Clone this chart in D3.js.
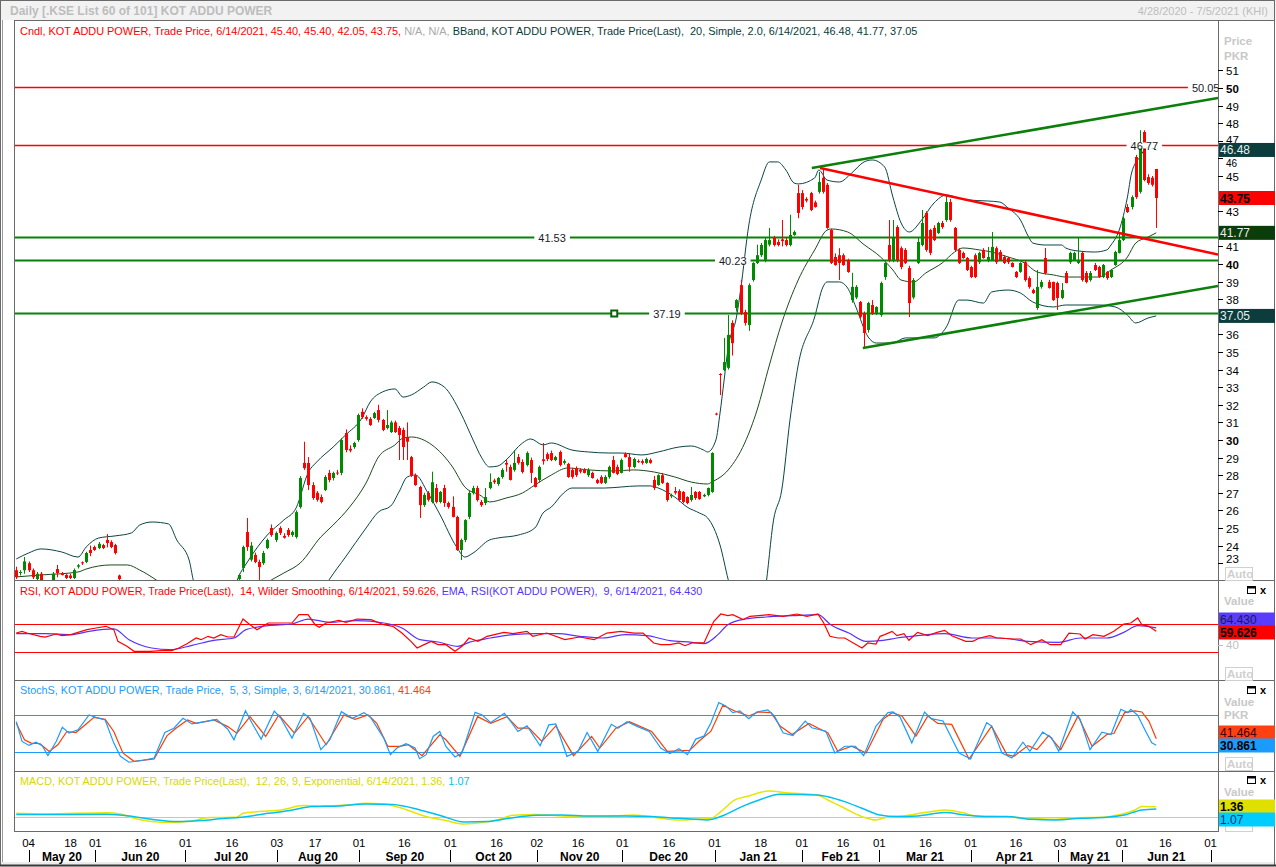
<!DOCTYPE html>
<html><head><meta charset="utf-8">
<script src="https://cdn.jsdelivr.net/npm/d3@7"></script>
<style>
body{margin:0;background:#fff;}
svg{display:block;}
text{font-family:"Liberation Sans",Arial,sans-serif;}
</style></head>
<body><svg id="c" width="1276" height="867"></svg>
<script>
// ---------------- DATA ----------------
// daily candles [open, high, low, close], trading-day index 0 = 4/28/2020 ... 277 = 6/14/2021
const candles = [
[22.6,22.8,22.1,22.2],[22.45,22.6,22.3,22.5],[22.6,23.35,22.4,23.1],[23.0,23.1,22.5,22.6],[22.6,22.7,22.1,22.2],
[22.1,22.5,22.0,22.4],[22.4,22.5,21.8,21.9],[21.8,21.95,21.4,21.6],[21.6,22.0,21.5,21.9],[21.9,22.5,21.8,22.4],
[22.67,22.9,22.2,22.44],[22.44,22.5,22.3,22.33],[22.33,22.4,22.1,22.16],[22.3,22.4,22.1,22.16],[22.16,22.7,22.1,22.61],
[22.8,22.95,22.7,22.88],[23.05,23.1,22.9,23.0],[23.07,23.65,23.0,23.58],[23.75,24.0,23.4,23.58],[23.92,24.0,23.7,23.75],
[23.86,24.2,23.8,24.1],[24.03,24.1,23.8,23.86],[24.32,24.66,23.9,24.15],[24.2,24.3,23.85,23.92],[24.03,24.1,23.5,23.58],
[22.3,22.35,21.9,22.1],[21.7,21.8,21.2,21.3],[21.3,21.5,20.9,21.0],[21.0,21.2,20.5,20.6],[20.6,20.9,20.3,20.8],
[20.8,21.0,20.4,20.5],[20.5,20.7,20.1,20.2],[20.2,20.5,19.9,20.3],[20.3,20.6,20.0,20.1],[20.1,20.3,19.7,19.8],
[19.8,20.2,19.6,20.0],[20.0,20.4,19.9,20.3],[20.3,20.6,20.1,20.4],[20.4,20.8,20.2,20.6],[20.6,20.9,20.3,20.5],
[20.5,20.9,20.4,20.8],[20.8,21.1,20.6,20.9],[20.9,21.2,20.7,21.0],[21.0,21.3,20.8,20.9],[20.9,21.2,20.7,21.1],
[21.1,21.4,20.9,21.2],[21.2,21.5,21.0,21.1],[21.1,21.4,20.9,21.3],[21.3,21.6,21.1,21.2],[21.2,21.5,21.0,21.4],
[21.4,21.7,21.2,21.5],[21.5,21.8,21.3,21.4],[21.4,21.8,21.3,21.7],[21.7,21.9,21.5,21.8],[22.1,22.4,22.0,22.33],
[22.73,24.0,22.5,23.92],[24.77,25.57,23.7,23.92],[23.2,24.2,23.1,24.0],[23.47,23.6,23.0,23.07],[23.07,23.2,22.05,22.78],
[23.0,23.7,22.9,23.58],[23.86,24.4,23.8,24.32],[25.0,25.2,24.5,24.6],[24.32,24.8,24.2,24.72],[25.0,25.1,24.6,24.72],
[24.55,24.7,24.4,24.45],[24.89,25.0,24.5,24.6],[24.6,24.85,24.5,24.77],[24.49,26.0,24.4,25.9],[26.19,27.95,26.1,27.84],
[28.7,29.9,28.3,28.4],[28.7,29.03,27.16,27.44],[27.44,27.6,26.6,26.7],[27.0,27.1,26.5,26.6],[26.76,26.9,26.4,26.48],
[27.16,28.0,27.1,27.9],[28.13,28.3,27.6,27.73],[27.84,28.2,27.7,28.13],[28.15,28.3,28.0,28.1],[28.13,30.1,28.0,30.0],
[30.4,30.6,29.3,29.43],[29.5,29.7,29.3,29.4],[29.6,29.9,29.5,29.83],[30.0,31.5,29.9,31.42],[31.6,31.8,31.2,31.3],
[31.3,31.4,31.1,31.2],[31.2,31.3,30.8,30.85],[31.25,31.6,31.2,31.53],[31.7,32.0,31.0,31.14],[31.14,31.2,30.5,30.57],
[30.68,31.7,30.6,30.85],[30.45,31.1,30.4,31.0],[31.0,31.1,30.4,30.45],[30.68,30.8,28.86,30.28],[30.57,30.7,28.86,29.6],
[30.17,31.0,28.86,29.9],[29.03,29.1,27.9,28.0],[28.0,28.1,27.4,27.44],[27.33,27.4,25.57,26.3],[26.3,27.0,26.2,26.88],
[27.0,27.1,26.5,26.6],[26.48,28.2,26.4,27.6],[27.27,27.5,26.4,26.48],[26.48,27.1,26.4,27.05],[27.27,27.45,26.2,26.42],
[26.42,26.5,26.1,26.2],[26.2,26.8,25.6,25.63],[25.63,25.7,23.7,23.75],[23.75,24.4,23.18,24.32],[24.32,25.5,24.2,25.45],
[25.63,27.1,25.5,26.99],[26.99,27.4,26.9,27.27],[27.27,27.4,26.5,26.59],[26.48,26.6,26.2,26.3],[26.42,27.27,26.3,26.76],
[27.27,28.1,27.2,27.61],[27.7,27.8,27.5,27.6],[27.5,27.9,27.4,27.84],[27.9,28.4,27.8,28.3],[28.7,28.9,28.2,28.6],
[28.47,28.6,27.7,27.73],[28.3,29.43,28.2,28.7],[29.03,29.2,28.6,28.7],[28.75,28.9,28.1,28.18],[28.58,29.35,28.5,29.26],
[28.86,29.0,27.56,28.13],[27.84,27.9,27.3,27.33],[27.73,28.55,27.6,28.47],[28.9,29.83,28.6,28.8],[29.2,29.3,28.8,28.92],
[29.26,29.4,28.8,28.86],[28.86,29.1,28.8,29.03],[29.32,29.4,28.5,28.58],[28.7,28.9,28.6,28.8],[28.64,28.7,27.85,27.9],
[28.3,28.4,27.8,27.9],[28.4,28.5,27.9,28.0],[28.3,28.4,28.1,28.2],[28.3,28.4,28.1,28.13],[28.0,28.4,27.9,28.3],
[28.13,28.2,27.8,27.84],[27.73,27.8,27.5,27.56],[27.9,28.0,27.5,27.56],[27.56,28.0,27.5,27.9],[27.9,28.55,27.8,28.47],
[28.86,29.1,28.1,28.13],[28.47,28.6,28.0,28.07],[28.13,28.95,28.1,28.86],[29.2,29.3,29.0,29.03],[29.03,29.26,28.2,28.47],
[28.47,29.0,28.4,28.92],[28.8,28.9,28.7,28.75],[28.8,28.9,28.6,28.7],[28.7,29.0,28.65,28.92],[28.86,28.95,28.65,28.7],
[27.73,27.96,27.16,27.27],[27.44,28.05,27.4,28.0],[28.0,28.13,27.5,27.56],[27.56,27.6,26.5,26.59],[26.8,26.95,26.7,26.88],
[27.1,27.33,26.9,27.0],[27.1,27.2,26.5,26.59],[27.05,27.1,26.4,26.48],[26.76,26.8,26.35,26.42],[26.59,27.33,26.5,26.88],
[27.05,27.1,26.6,26.7],[27.05,27.1,26.6,26.65],[26.8,26.95,26.75,26.88],[26.88,27.3,26.8,27.27],[27.05,29.3,27.0,29.26],
[31.5,31.55,31.4,31.45],[33.75,33.8,32.55,33.7],[33.98,35.8,33.9,34.43],[34.1,37.1,34.0,35.97],[36.65,36.8,34.8,35.5],
[37.5,38.0,37.3,37.95],[38.8,39.1,37.1,37.2],[37.27,37.4,36.5,36.65],[36.53,38.9,36.2,38.8],[39.09,40.1,39.0,40.06],
[40.06,41.1,40.0,40.5],[40.5,41.2,40.4,41.08],[40.23,41.5,40.1,41.36],[41.1,42.05,41.0,41.36],[41.48,41.6,41.0,41.08],
[41.25,41.4,41.0,41.08],[41.4,42.5,41.0,41.3],[41.36,41.5,41.0,41.08],[41.08,42.8,41.0,41.65],[41.65,41.9,41.6,41.82],
[44.03,44.5,42.6,42.9],[44.03,44.2,43.1,43.24],[43.7,43.8,43.5,43.6],[44.03,44.1,43.0,43.07],[43.5,43.6,43.2,43.24],
[44.1,45.23,44.0,44.66],[44.9,45.45,44.0,44.1],[44.5,44.6,42.0,42.05],[41.93,42.0,40.0,40.06],[40.4,40.6,39.9,39.94],
[40.5,40.9,39.09,40.06],[40.5,40.6,39.9,39.94],[40.23,40.3,39.5,39.55],[37.95,39.5,37.8,38.7],[38.1,38.8,38.0,38.7],
[37.84,37.9,36.9,37.0],[37.2,37.3,35.28,36.08],[36.25,37.85,36.1,37.78],[37.67,37.95,37.1,37.22],[37.22,37.6,37.1,37.56],
[37.1,39.0,37.0,38.92],[39.26,40.1,39.1,40.06],[41.08,42.5,40.1,40.23],[40.23,42.5,40.1,41.53],[42.1,42.2,40.1,40.23],
[40.9,41.0,39.7,39.83],[40.8,40.9,40.0,40.06],[39.77,39.9,36.99,37.78],[38.1,39.2,38.0,39.09],[40.06,41.53,40.0,41.25],
[41.08,43.07,41.0,42.33],[42.9,43.0,40.7,40.8],[41.93,42.0,40.5,40.63],[42.05,42.2,41.3,41.36],[41.76,42.4,41.7,42.33],
[42.33,42.45,42.0,42.1],[42.5,43.92,42.4,43.52],[43.52,43.7,42.4,42.5],[42.05,42.1,40.7,40.8],[40.8,40.9,40.0,40.06],
[40.63,40.7,40.3,40.34],[40.34,40.4,39.6,39.66],[39.83,39.9,39.2,39.26],[40.5,40.6,39.2,39.26],[40.1,40.7,40.0,40.63],
[40.8,40.9,40.3,40.34],[40.17,40.97,40.1,40.4],[40.23,41.82,40.2,40.97],[40.9,41.0,40.0,40.1],[40.68,40.8,40.2,40.23],
[40.4,40.5,40.0,40.06],[40.34,40.4,40.0,40.1],[40.06,40.1,39.8,39.83],[39.55,39.6,39.2,39.26],[39.55,40.1,39.5,40.06],
[40.1,40.2,39.0,39.09],[39.2,39.3,38.6,38.7],[38.52,38.6,38.3,38.35],[37.5,39.66,37.4,38.7],[38.7,39.1,38.6,38.98],
[40.34,40.91,39.4,39.49],[38.98,39.1,38.6,38.64],[38.98,39.0,37.9,37.95],[38.92,39.0,37.39,38.07],[38.07,38.92,38.0,38.52],
[39.49,39.6,38.9,38.92],[40.1,40.7,40.0,40.63],[40.23,40.7,40.2,40.63],[40.06,41.53,40.0,40.23],[40.63,40.7,39.0,39.09],
[39.49,39.6,38.9,38.98],[39.09,39.6,39.0,39.49],[39.94,40.06,39.6,39.66],[39.83,39.9,39.2,39.26],[39.26,40.0,39.2,39.94],
[39.55,39.6,39.1,39.2],[39.26,39.7,39.2,39.66],[39.94,40.75,39.9,40.68],[40.63,41.82,40.6,41.36],[41.36,42.7,41.3,42.6],
[43.24,43.4,42.9,42.95],[43.24,43.9,43.1,43.8],[46.08,46.2,43.7,43.8],[44.1,47.6,44.0,46.65],[47.5,47.6,44.7,44.77],
[44.94,45.1,44.5,44.6],[44.9,45.0,44.4,44.5],[45.40,45.40,42.05,43.75]
];

// Bollinger band (20, 2.0): [day index, value]
const bbUpper = [[0,23.24],[3,23.58],[6,23.81],[11,23.64],[15,23.35],[17,23.92],[20,24.43],[24,24.55],[28,24.72],[30,25.17],[33,25.34],[37,25.23],[39,24.32],[42,23.18],[43,22.05],[46,20.6],[50,20.0],[52,20.8],[54,22.22],[56,23.01],[61,24.6],[65,25.45],[68,26.14],[71,28.18],[73,28.75],[77,29.6],[80,30.28],[84,31.25],[86,32.16],[89,32.73],[92,32.9],[94,32.44],[96,32.56],[99,33.01],[101,33.3],[104,33.01],[108,31.53],[111,30.0],[113,29.03],[115,28.47],[117,28.52],[119,28.86],[123,29.83],[125,30.06],[128,29.72],[130,29.83],[135,29.43],[139,29.32],[144,29.26],[147,29.26],[152,29.15],[156,29.32],[161,29.6],[164,29.66],[167,29.43],[168,29.32],[170,30.0],[171,31.53],[172,33.41],[173,35.28],[175,36.99],[176,38.52],[178,42.22],[181,44.77],[183,45.8],[185,45.8],[187,45.34],[189,44.6],[190,44.55],[194,44.89],[195,45.34],[197,44.77],[200,44.66],[203,45.17],[206,45.8],[208,45.91],[211,45.51],[213,43.81],[215,42.33],[217,41.82],[220,42.5],[223,43.47],[226,43.92],[229,43.75],[231,43.64],[236,43.58],[239,43.52],[241,43.18],[244,42.5],[246,41.53],[247,41.19],[250,41.08],[254,41.08],[255,40.91],[258,40.74],[262,40.68],[265,40.8],[266,41.08],[268,41.93],[270,43.81],[271,45.17],[273,46.08],[275,46.65],[277,46.48]];
const bbMiddle = [[0,22.22],[6,22.33],[15,22.5],[17,22.67],[23,22.9],[27,22.9],[30,22.61],[34,22.05],[40,21.0],[50,20.5],[58,21.5],[62,22.05],[65,22.44],[69,23.01],[74,24.49],[77,25.17],[81,26.19],[85,27.56],[88,29.03],[92,29.72],[94,30.11],[96,30.17],[101,29.72],[106,28.47],[109,27.33],[113,26.82],[115,26.48],[119,26.7],[123,26.99],[126,27.44],[130,28.01],[134,28.41],[139,28.3],[145,28.24],[150,28.3],[155,28.18],[160,27.9],[164,27.61],[168,27.5],[169,27.61],[173,28.3],[177,29.83],[180,31.7],[183,34.26],[186,36.65],[190,39.09],[194,40.8],[197,41.93],[198,41.99],[202,41.82],[206,41.1],[210,40.4],[213,39.66],[215,39.09],[218,38.98],[221,39.49],[225,40.06],[228,40.68],[230,40.91],[234,40.8],[237,40.68],[241,40.4],[245,40.06],[248,39.55],[252,39.38],[255,39.26],[259,39.26],[263,39.26],[266,39.66],[270,40.4],[272,41.19],[275,41.53],[277,41.77]];
const bbLower = [[0,21.0],[20,20.5],[35,19.0],[50,18.5],[65,18.5],[72,20.5],[76,22.05],[80,23.35],[85,25.0],[88,25.91],[91,26.25],[93,27.05],[95,27.9],[97,28.01],[100,27.0],[103,25.74],[107,23.92],[109,23.35],[111,23.58],[115,24.32],[117,24.43],[122,24.6],[126,25.0],[128,25.85],[130,26.19],[133,26.99],[135,27.27],[139,27.27],[143,27.27],[147,27.33],[151,27.39],[154,27.39],[156,27.27],[160,26.76],[163,26.19],[166,25.85],[168,25.57],[171,24.03],[173,22.05],[176,19.5],[180,19.5],[182,21.5],[184,25.45],[186,27.16],[188,31.14],[190,34.26],[194,36.99],[196,38.69],[197,38.98],[200,38.98],[202,38.64],[204,37.56],[207,35.85],[209,35.51],[213,35.51],[216,35.8],[223,35.8],[226,36.42],[229,37.95],[231,37.95],[235,37.78],[237,38.41],[241,38.52],[244,38.35],[247,37.84],[252,37.56],[255,37.67],[263,37.67],[267,37.56],[270,37.1],[272,36.65],[275,36.93],[277,37.05]];

// RSI(14) and its EMA(9)
const rsiLine = [[0,57.1],[1.4,59.5],[2.6,57.1],[5.8,52.4],[7,51.4],[9.7,55.7],[11.1,53.3],[13.3,54.8],[15,58.1],[17.2,61.9],[19.4,64.3],[21.8,66.7],[23.7,61.9],[24.7,45.2],[26.9,38.1],[28.6,31],[32.5,31],[35.2,31.9],[37.8,31.9],[39.5,35.7],[41.5,41.9],[43.7,50],[44.9,47.6],[46.6,52.4],[48,50],[49.7,54.8],[51.4,51.4],[52.9,51.4],[55.1,77.1],[56.8,69],[58.5,61.9],[61.2,71.4],[64.3,71.4],[67,71.4],[68.7,83.3],[70.9,83.3],[72.6,69],[73.6,65.2],[75.3,71.4],[78.4,75.2],[80.1,72.4],[82.8,77.1],[86.2,76.2],[89.3,69],[91.5,66.7],[93.7,57.1],[95.9,45.2],[97.4,35.7],[99.1,40.5],[100.8,45.2],[102.5,40.5],[104.4,40.5],[106.6,31],[108.3,38.1],[110,50],[112.2,45.2],[114.4,52.4],[118.5,58.1],[120.7,56.2],[124.1,59.5],[125.5,52.4],[128.9,57.1],[133.3,47.6],[136.9,51.4],[140.4,47.6],[143.5,57.1],[146.9,59.5],[150.1,57.1],[152.3,57.1],[154.9,42.9],[156.6,40.5],[158.8,40.5],[161,42.9],[162.5,39],[164.2,42.9],[167.1,42.9],[169.5,73.8],[171.2,84.3],[172.9,81.9],[174.1,83.3],[176.6,76.2],[178.3,81],[182.9,83.3],[186.3,81],[189.7,84.3],[192.1,81],[194.8,84.3],[196.2,71.4],[197.7,52.4],[199.6,50],[201.3,50],[205.5,35.7],[206.9,42.9],[208.9,41.4],[209.9,52.4],[211,54.8],[212.8,59.5],[214,53.3],[215.7,56.2],[216.9,46.7],[219,58.1],[221.5,53.3],[223.7,58.1],[225.6,61],[227.3,53.3],[230.7,45.2],[232.4,45.2],[234.1,50],[236.6,53.3],[238.3,50],[242.4,48.6],[244.1,48.6],[246.5,40.5],[249.2,47.6],[251.2,40.5],[253.8,40.5],[255.8,57.1],[258.5,55.7],[259.7,48.6],[261.6,54.8],[264.3,52.4],[266.7,59.5],[269.1,70],[270.8,71.4],[272.5,78.6],[273.5,69],[275.2,66.7],[277,59.626]];
const rsiEma = [[0,56.2],[7,56.2],[13.3,54.8],[17.7,59.5],[23.7,62.9],[27.4,47.6],[32.9,35.7],[37.4,33.3],[42.7,39.5],[48,46.7],[52.9,50],[55.8,61.9],[61.2,67.6],[67,70],[70.9,77.1],[76.2,72.4],[82.8,74.8],[89.3,71.4],[93.7,64.3],[98.1,47.6],[102.5,44.3],[107.3,38.1],[110,43.8],[115.3,50],[120.7,54.8],[126.3,56.2],[131.6,56.2],[136.9,52.4],[142.5,50],[147.9,54.8],[153.2,53.3],[158.8,46.2],[164.2,43.8],[167.1,41.9],[170.5,54.8],[172.9,69],[177.1,77.1],[182.2,80],[188.7,81.9],[194.8,83.3],[197.9,69],[202.3,57.1],[206.5,45.2],[210.6,46.7],[214,50],[219,53.3],[225.6,56.2],[232.4,50],[239,50],[245.8,45.2],[253.3,43.8],[258.5,50],[265,50],[269.1,58.1],[272.5,67.6],[277,64.43]];

// Slow stochastic (5,3,3): %K and %D
const stochK = [[0,69.3],[1.4,37.1],[3.1,30.7],[4.8,36],[6.3,30.2],[7.7,14.1],[9.7,37.1],[11.2,60.2],[12.8,50.5],[15,55.9],[17.7,80],[19.4,76.2],[21.6,72],[23.7,34.4],[25.3,13],[27.4,3.4],[30.8,6.6],[33.5,10.3],[36.1,51.6],[38.3,58.6],[40.5,74.6],[42.7,65.5],[45.9,69.3],[48.7,73],[51.4,57],[52.9,39.8],[55.7,87],[57.3,66.6],[59.5,40.9],[62.7,86.4],[64.3,74.6],[67,42.5],[69.8,82.7],[71.4,74.6],[74,23.7],[76.2,39.8],[79,85.4],[81.7,74.6],[84.5,83.8],[86.1,76.2],[89.3,42.5],[90.9,15.7],[92.5,26.4],[94.7,33.4],[96.9,26.4],[98,9.2],[99.6,15.7],[101.3,45.2],[102.9,53.2],[104.4,29.1],[106.6,12],[108.3,18.4],[111.5,84.3],[113.2,80],[115.3,67.7],[118.6,82.7],[120.2,69.3],[121.9,53.2],[124.1,62.3],[127.3,30.2],[129.4,63.9],[131.1,65.5],[133.8,13],[136.5,21],[138.7,51.6],[141.3,21],[144.6,65],[146.2,58.6],[148.4,69.3],[151,61.2],[153.8,53.2],[156.6,26.4],[158.8,17.3],[161,25.3],[163.1,15.7],[165.1,40.9],[167.1,45.7],[168.8,67.5],[170.7,100],[172.4,94.7],[174.1,83.8],[175.8,86.5],[178,74],[179.9,84.9],[182.6,88.2],[184.2,78.4],[186.3,51.1],[188.7,46.8],[191.7,70.2],[193.3,59.3],[196.7,53.8],[198.9,18.4],[201.3,29.3],[203.9,29.3],[205.9,14],[208.9,62],[211.8,83.8],[213,84.9],[214.7,77.3],[217.6,34.8],[220.7,84.9],[222.3,74],[225.2,70.2],[229.1,18.4],[231.9,8.6],[235.8,67.5],[237,62],[239.5,18.4],[241.9,10.2],[244.6,35.9],[246.3,21.1],[249.4,52.2],[251.6,42.9],[253.3,21.1],[256.7,84.9],[258.5,72.9],[260.9,23.9],[263.8,52.2],[266,48.4],[268.4,89.3],[270.1,83.8],[270.8,89.3],[272.5,79.5],[274.2,56.6],[275.9,34.8],[277,30.861]];
const stochD = [[0,66.6],[2,39.8],[3.6,34.4],[5.8,33.4],[8,21],[10.1,31.8],[12.3,53.2],[14.5,51.6],[16.7,63.9],[18.9,76.2],[21.6,73],[23.7,53.2],[25.9,18.4],[28.6,5],[33.5,8.7],[36.6,46.2],[38.8,58.6],[41.6,72],[43.7,66.6],[48,72],[51.4,61.2],[53.6,50.5],[56.8,77.3],[60.6,45.2],[63.8,80],[67.6,50.5],[70.9,77.3],[75.3,31.8],[79.6,80],[82.3,73],[85.5,80],[87.6,66.6],[90.3,29.1],[93.1,29.1],[95.3,31.8],[98.6,14.1],[102.9,47.8],[104.4,39.8],[107.8,13],[112.1,77.3],[115.3,66.6],[119.2,77.3],[121.9,58.6],[124.6,58.6],[127.7,37.1],[131.1,62.3],[135.4,14.1],[139.8,45.2],[141.8,26.4],[145.7,58.6],[149,69.3],[154.4,53.2],[158.2,21],[163.6,22.6],[165.8,37.1],[168.8,53.8],[171.7,95.8],[174.6,86.5],[178,78.4],[180.4,84.9],[183.4,83.8],[185.6,62],[188.5,48.4],[192.6,66.4],[195.5,56.6],[197.2,51.1],[199.6,21.1],[203,29.3],[206.5,18.4],[210.6,72.9],[212.8,83.8],[215.2,78.4],[218.6,45.7],[221.5,78.4],[223.9,66.4],[227.3,64.7],[231.5,8.6],[237,62],[240.7,15.7],[242.4,13],[245.8,30.4],[248,23.9],[250.9,46.8],[253.8,23.9],[258,78.4],[261.4,29.3],[265,48.4],[266.7,50],[269.3,83.8],[271.8,86.5],[273.5,84.9],[275.2,70.2],[277,41.464]];

// MACD (12,26,9) line and signal
const macdLine = [[0,0.52],[7,0.43],[22,0.6],[25.3,0.43],[28.6,-0.13],[32.9,-0.56],[37.4,-0.69],[41.6,-0.56],[47.1,-0.04],[53.5,0],[55.1,0.52],[59,0.74],[64.3,0.95],[69.8,1.52],[74,1.47],[80.6,1.6],[85,1.82],[89.3,1.73],[93.7,1.17],[99.1,0.17],[104.4,-0.43],[108.8,-0.87],[113.2,-0.69],[117.5,-0.26],[120.7,0.26],[126.3,0.35],[132.7,0.17],[139.2,0.09],[145.7,0.17],[150.1,0.3],[156.6,-0.13],[161,-0.35],[165.1,-0.26],[168.8,-0.13],[171.2,0.74],[174.6,2.25],[178,2.77],[182.9,3.42],[187.1,3.2],[194.7,2.9],[197.2,2.25],[201.3,1.17],[205.5,0.09],[208.9,-0.35],[211.5,0],[215.7,0.17],[220.7,0.61],[225.6,0.95],[229.9,0.61],[233.2,0.17],[237.3,0.09],[241.7,0],[245.8,-0.13],[251.6,-0.26],[255.8,-0.13],[260,-0.04],[264.3,0],[267.6,0.3],[271.8,0.95],[273.5,1.39],[277,1.36]];
const macdSignal = [[0,0.35],[7,0.35],[22,0.39],[27.5,0.17],[32.9,-0.26],[39.4,-0.56],[44.9,-0.43],[50.2,-0.17],[54.6,0],[61.2,0.52],[66.5,0.87],[71.9,1.39],[78.4,1.47],[85,1.73],[91.5,1.65],[98.1,0.95],[103.4,0.17],[108.8,-0.61],[114.4,-0.56],[119.7,-0.13],[126.3,0.26],[132.7,0.3],[139.2,0.17],[147.9,0.17],[154.4,0.09],[161,-0.13],[165.1,-0.26],[167.8,-0.35],[172.1,0.3],[176.3,1.39],[180.5,2.25],[185.5,2.99],[194.7,2.9],[197.2,2.68],[201.3,2.03],[205.5,1.17],[209.8,0.3],[214,0.09],[219,0.17],[225.6,0.61],[230.7,0.3],[235.8,0.09],[240.7,0.09],[246.5,-0.26],[252.5,-0.35],[258.5,-0.13],[265,0],[269.3,0.3],[273.5,0.95],[277,1.07]];

// horizontal levels and drawn trend lines
const levelValues = [50.05, 46.77, 41.53, 40.23, 37.19];
const trendUpper = [[193.3,45.45],[292,49.43]];
const trendDown  = [[195.3,45.45],[292,40.54]];
const trendLower = [[205.7,35.23],[292,38.75]];

// axis labels (ticks hidden under the value boxes in the reference are left out)
const priceTicks = [23,24,25,26,27,28,29,30,31,32,33,34,35,36,38,39,40,41,43,45,46,47,48,49,50,51];
const dayTicks = [[3,"04"],[13.2,"18"],[19.2,"01"],[30.2,"16"],[41.1,"01"],[52.4,"16"],[63.3,"03"],[72.6,"17"],[83.3,"01"],[94.3,"16"],[105.5,"01"],[116.7,"16"],[126.5,"02"],[136.5,"16"],[147.3,"01"],[158.6,"16"],[169.7,"01"],[180.9,"18"],[190.9,"01"],[200.9,"16"],[209.7,"01"],[220.9,"16"],[231.9,"01"],[242.9,"16"],[253.6,"03"],[268.7,"01"],[279.2,"16"],[290.2,"01"]];
const monthStarts = [3,19.2,41.1,63.3,83.3,105.5,126.5,147.3,169.7,190.9,209.7,231.9,253.1,268.7,290.2];
const monthNames = ["May 20","Jun 20","Jul 20","Aug 20","Sep 20","Oct 20","Nov 20","Dec 20","Jan 21","Feb 21","Mar 21","Apr 21","May 21","Jun 21"];

// ---------------- DRAW ----------------
const svg = d3.select("#c");
const PL = 14, PR = 1218, WR = 1275;
const GREEN = "#008a00", RED = "#ff0000";

const x = d3.scaleLinear().domain([-0.55, 292.0]).range([PL, PR]);
const yMain = d3.scaleLinear().domain([22.045, 53.864]).range([580, 20]);
const yRsi = d3.scaleLinear().domain([-11.43, 131.43]).range([681, 581]);
const ySto = d3.scaleLinear().domain([-10.8, 135.1]).range([771, 681]);
const yMacd = d3.scaleLinear().domain([-1.78, 6.01]).range([831, 771]);

svg.append("rect").attr("width",1276).attr("height",867).attr("fill","#fff");
svg.append("rect").attr("x",0).attr("y",0).attr("width",1276).attr("height",20).attr("fill","#f2f2f2");
svg.append("text").attr("x",10).attr("y",15).attr("font-size",12).attr("font-weight","bold").attr("fill","#bdbdbd")
  .text("Daily [.KSE List 60 of 101] KOT ADDU POWER");
svg.append("text").attr("x",1268).attr("y",15).attr("font-size",11).attr("text-anchor","end").attr("fill","#bdbdbd")
  .text("4/28/2020 - 7/5/2021 (KHI)");
svg.append("rect").attr("x",0).attr("y",862).attr("width",1276).attr("height",5).attr("fill","#ececec");

const defs = svg.append("defs");
function clip(id, top, bottom){
  defs.append("clipPath").attr("id",id).append("rect").attr("x",PL+1).attr("y",top+1).attr("width",PR-PL-1).attr("height",bottom-top-1);
  return svg.append("g").attr("clip-path",`url(#${id})`);
}
const gMain = clip("cm",20,580), gRsi = clip("cr",581,681), gSto = clip("cs",681,771), gMacd = clip("cd",771,831);

// Bollinger bands
const lineGen = (ys)=> d3.line().x(d=>x(d[0])).y(d=>ys(d[1])).curve(d3.curveMonotoneX);
gMain.append("path").datum(bbUpper).attr("d",lineGen(yMain)).attr("fill","none").attr("stroke","#0b4444").attr("stroke-width",1);
gMain.append("path").datum(bbLower).attr("d",lineGen(yMain)).attr("fill","none").attr("stroke","#0b4444").attr("stroke-width",1);
gMain.append("path").datum(bbMiddle).attr("d",lineGen(yMain)).attr("fill","none").attr("stroke","#1d4a1d").attr("stroke-width",1);

// horizontal levels
const levelStyle = [
  {color:RED,w:1.5,label:"50.05",lx:289.0},
  {color:RED,w:1.5,label:"46.77",lx:274.1},
  {color:"#0a800a",w:2,label:"41.53",lx:130.2},
  {color:"#0a800a",w:2,label:"40.23",lx:174.1},
  {color:"#0a800a",w:2,label:"37.19",lx:158.1,marker:145.3}
];
const labelLayer = [];
levelValues.forEach((v,k)=>{
  const s = levelStyle[k], yy = Math.round(yMain(v))+0.5;
  gMain.append("line").attr("x1",PL).attr("x2",PR).attr("y1",yy).attr("y2",yy).attr("stroke",s.color).attr("stroke-width",s.w);
  labelLayer.push({s,yy});
  if(s.marker!==undefined){
    gMain.append("rect").attr("x",x(s.marker)-3).attr("y",yy-3).attr("width",6).attr("height",6).attr("fill","#fff").attr("stroke","#0a600a").attr("stroke-width",2);
  }
});

// candles
const cg = gMain.append("g");
candles.forEach((c,i)=>{
  const [o,h,l,cl] = c, up = cl>=o, col = up?GREEN:RED, cx = Math.round(x(i))+0.5;
  cg.append("line").attr("x1",cx).attr("x2",cx).attr("y1",yMain(h)).attr("y2",yMain(l)).attr("stroke",col).attr("stroke-width",1);
  const y1 = yMain(Math.max(o,cl)), y2 = yMain(Math.min(o,cl));
  cg.append("rect").attr("x",cx-1.5).attr("y",y1).attr("width",3).attr("height",Math.max(1,y2-y1)).attr("fill",col);
});

// trend lines
[[trendUpper,"#0a800a"],[trendDown,RED],[trendLower,"#0a800a"]].forEach(([d,col])=>{
  gMain.append("path").datum(d).attr("d",d3.line().x(p=>x(p[0])).y(p=>yMain(p[1]))).attr("stroke",col).attr("stroke-width",2.5).attr("fill","none");
});
// level labels on top, with a small white gap in the line
labelLayer.forEach(({s,yy})=>{
  const t = gMain.append("text").attr("x",x(s.lx)).attr("y",yy+4).attr("font-size",11).attr("text-anchor","middle").attr("fill","#1a1a2a").text(s.label);
  const bb = t.node().getBBox();
  gMain.insert("rect", function(){ return t.node(); }).attr("x",bb.x-4).attr("y",yy-3).attr("width",bb.width+8).attr("height",6).attr("fill","#fff");
});

// RSI panel
[70,30].forEach(v=>gRsi.append("line").attr("x1",PL).attr("x2",PR).attr("y1",Math.round(yRsi(v))+0.5).attr("y2",Math.round(yRsi(v))+0.5).attr("stroke",RED).attr("stroke-width",1.2));
gRsi.append("path").datum(rsiEma).attr("d",lineGen(yRsi)).attr("fill","none").attr("stroke","#5533ff").attr("stroke-width",1.2);
gRsi.append("path").datum(rsiLine).attr("d",d3.line().x(d=>x(d[0])).y(d=>yRsi(d[1]))).attr("fill","none").attr("stroke",RED).attr("stroke-width",1.2);

// Stoch panel
[80,20].forEach(v=>gSto.append("line").attr("x1",PL).attr("x2",PR).attr("y1",Math.round(ySto(v))+0.5).attr("y2",Math.round(ySto(v))+0.5).attr("stroke","#1a9cff").attr("stroke-width",1.2));
gSto.append("path").datum(stochD).attr("d",d3.line().x(d=>x(d[0])).y(d=>ySto(d[1]))).attr("fill","none").attr("stroke","#ff3c00").attr("stroke-width",1.2);
gSto.append("path").datum(stochK).attr("d",d3.line().x(d=>x(d[0])).y(d=>ySto(d[1]))).attr("fill","none").attr("stroke","#1a9cff").attr("stroke-width",1.2);

// MACD panel
gMacd.append("line").attr("x1",PL).attr("x2",PR).attr("y1",Math.round(yMacd(0))+0.5).attr("y2",Math.round(yMacd(0))+0.5).attr("stroke","#e0e000").attr("stroke-width",1.2);
gMacd.append("path").datum(macdLine).attr("d",lineGen(yMacd)).attr("fill","none").attr("stroke","#e6e600").attr("stroke-width",1.5);
gMacd.append("path").datum(macdSignal).attr("d",lineGen(yMacd)).attr("fill","none").attr("stroke","#00c0f0").attr("stroke-width",1.5);

// headers: font size tuned so each header spans its reference width
function header(y, parts, width){
  const t = svg.append("text").attr("x",20).attr("y",y).attr("font-size",11.5).attr("xml:space","preserve");
  parts.forEach(([s,c])=>t.append("tspan").attr("fill",c).text(s));
  const w = t.node().getComputedTextLength();
  t.attr("font-size", (11.5*width/w).toFixed(2));
}
header(35,[["Cndl, KOT ADDU POWER, Trade Price, 6/14/2021, 45.40, 45.40, 42.05, 43.75, ",RED],["N/A, N/A, ","#a8a8a8"],["BBand, KOT ADDU POWER, Trade Price(Last),  20, Simple, 2.0, 6/14/2021, 46.48, 41.77, 37.05","#0b3b3b"]],898);
header(595,[["RSI, KOT ADDU POWER, Trade Price(Last),  14, Wilder Smoothing, 6/14/2021, 59.626, ",RED],["EMA, RSI(KOT ADDU POWER),  9, 6/14/2021, 64.430","#5533ff"]],683);
header(694,[["StochS, KOT ADDU POWER, Trade Price,  5, 3, Simple, 3, 6/14/2021, 30.861, ","#1a9cff"],["41.464","#ff3c00"]],411);
header(785,[["MACD, KOT ADDU POWER, Trade Price(Last),  12, 26, 9, Exponential, 6/14/2021, 1.36, ","#d8d800"],["1.07","#00c0f0"]],450);

// frame lines
const frame = svg.append("g").attr("stroke","#6a6a6a").attr("stroke-width",1);
frame.append("line").attr("x1",PL+0.5).attr("x2",PL+0.5).attr("y1",20).attr("y2",831);
frame.append("line").attr("x1",PR+0.5).attr("x2",PR+0.5).attr("y1",20).attr("y2",831);
[20.5,580.5,680.5,771.5].forEach(y=>frame.append("line").attr("x1",PL).attr("x2",WR).attr("y1",y).attr("y2",y));
frame.append("line").attr("x1",PL).attr("x2",PR+1).attr("y1",831.5).attr("y2",831.5);
svg.append("rect").attr("x",0.5).attr("y",0.5).attr("width",1274).attr("height",865).attr("fill","none").attr("stroke","#6a6a6a");
svg.append("line").attr("x1",2.5).attr("x2",2.5).attr("y1",20).attr("y2",862).attr("stroke","#9a9a9a");
svg.append("line").attr("x1",0).attr("x2",1276).attr("y1",865.5).attr("y2",865.5).attr("stroke","#3a3a3a").attr("stroke-width",2);

// right axis: main
const ax = svg.append("g");
ax.append("text").attr("x",1224).attr("y",45).attr("font-size",11.5).attr("font-weight","bold").attr("fill","#c8c8c8").text("Price");
ax.append("text").attr("x",1224).attr("y",60).attr("font-size",11.5).attr("font-weight","bold").attr("fill","#c8c8c8").text("PKR");
// labels right next to a value box are nudged / shrunk clear of it (the reference shows them peeking out)
const labelNudge = {47:{dy:-1.5,fs:11.5}, 46:{dy:4,fs:10}};
priceTicks.forEach(v=>{
  const yy = Math.round(yMain(v))+0.5, n = labelNudge[v] || {dy:0,fs:11.5};
  ax.append("line").attr("x1",PR).attr("x2",PR+5).attr("y1",yy).attr("y2",yy).attr("stroke","#000");
  ax.append("text").attr("x",1226).attr("y",Math.min(yy,559)+4+n.dy).attr("font-size",n.fs)
    .attr("font-weight",v%10===0?"bold":"normal").attr("fill","#000").text(v);
});
function autoBox(y, withText){
  ax.append("rect").attr("x",1225.5).attr("y",y-10.5).attr("width",27).attr("height",13).attr("fill","#fff").attr("stroke","#d0d0d0");
  if(withText!==false) ax.append("text").attr("x",1227).attr("y",y).attr("font-size",11.5).attr("font-weight","bold").attr("fill","#cfcfcf").text("Auto");
}
autoBox(578);
function valBox(cy, label, bg, fg, bold){
  ax.append("rect").attr("x",PR+1).attr("y",cy-7).attr("width",WR-PR-1).attr("height",14).attr("fill",bg);
  ax.append("text").attr("x",PR+2).attr("y",cy+4.5).attr("font-size",12).attr("font-weight",bold?"bold":"normal").attr("fill",fg).text(label);
}
valBox(yMain(46.48),"46.48","#0c3c3c","#e6f0f0",false);
valBox(yMain(43.75),"43.75",RED,"#000",true);
valBox(yMain(41.77),"41.77","#0a3d0a","#e6f0e6",false);
valBox(yMain(37.05),"37.05","#0c3c3c","#e6f0f0",false);

// sub-panel axes
function icons(top){
  ax.append("rect").attr("x",1247.5).attr("y",top+5.5).attr("width",8).attr("height",7).attr("fill","none").attr("stroke","#000");
  ax.append("line").attr("x1",1247.5).attr("x2",1255.5).attr("y1",top+6.5).attr("y2",top+6.5).attr("stroke","#000").attr("stroke-width",2);
  ax.append("text").attr("x",1260).attr("y",top+13).attr("font-size",11).attr("font-weight","bold").attr("fill","#000").text("x");
}
function gray(x0,y,t){ ax.append("text").attr("x",x0).attr("y",y).attr("font-size",11.5).attr("font-weight","bold").attr("fill","#c8c8c8").text(t); }
icons(581); gray(1224,605,"Value");
ax.append("line").attr("x1",PR).attr("x2",PR+5).attr("y1",Math.round(yRsi(40))+0.5).attr("y2",Math.round(yRsi(40))+0.5).attr("stroke","#c0c0c0");
ax.append("text").attr("x",1226).attr("y",yRsi(40)+4).attr("font-size",11.5).attr("fill","#c0c0c0").text("40");
autoBox(678);
valBox(619.5,"64.430","#5a3cff","#1a1a50",false);
valBox(632.5,"59.626",RED,"#000",true);

icons(681); gray(1224,706,"Value"); gray(1224,719,"PKR");
autoBox(768);
valBox(732.5,"41.464","#ff4010","#400000",false);
valBox(745.5,"30.861","#1a9cff","#000",true);

icons(771); gray(1224,796,"Value");
autoBox(829, false);   // only its outline peeks out below the 1.07 box
valBox(806.5,"1.36","#e0e000","#000",true);
valBox(819.5,"1.07","#00ccff","#15306a",false);

// x axis
const xa = svg.append("g");
dayTicks.forEach(([i,t])=>{
  xa.append("text").attr("x",x(i)).attr("y",847).attr("font-size",11.5).attr("text-anchor","middle").attr("fill","#000").text(t);
});
monthStarts.forEach(i=>{
  const xx = Math.round(x(i))+0.5;
  xa.append("line").attr("x1",xx).attr("x2",xx).attr("y1",850).attr("y2",862).attr("stroke","#000");
});
monthNames.forEach((m,k)=>{
  const cx = (x(monthStarts[k])+x(monthStarts[k+1]))/2;
  xa.append("text").attr("x",cx).attr("y",861).attr("font-size",12).attr("font-weight","bold").attr("text-anchor","middle").attr("fill","#000").text(m);
});
</script></body></html>
